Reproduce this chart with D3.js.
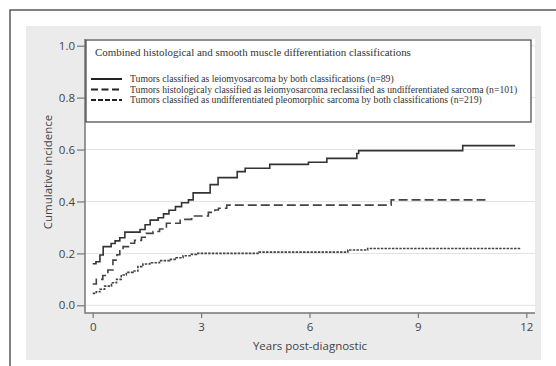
<!DOCTYPE html>
<html><head><meta charset="utf-8">
<script src="https://cdn.jsdelivr.net/npm/d3@7"></script>
<style>html,body{margin:0;padding:0;background:#fff;}svg{display:block;}</style>
</head><body>
<script>
// ---- data ----
const xTicks = [0, 3, 6, 9, 12];
const yTicks = [0, 0.2, 0.4, 0.6, 0.8, 1.0];
const legendTitle = "Combined histological and smooth muscle differentiation classifications";
const seriesNames = [
  "Tumors classified as leiomyosarcoma by both classifications (n=89)",
  "Tumors histologicaly classified as leiomyosarcoma reclassified as undifferentiated sarcoma (n=101)",
  "Tumors classified as undifferentiated pleomorphic sarcoma by both classifications (n=219)"
];
const lmsTime  = [0, 0.09, 0.2, 0.29, 0.51, 0.62, 0.75, 0.89, 1.31, 1.45, 1.59, 1.81, 1.96, 2.11, 2.29, 2.46, 2.65, 2.78, 3.25, 3.47, 4.0, 4.22, 4.9, 5.97, 6.48, 7.31, 7.36, 10.24, 11.69];
const lmsValue = [0.16, 0.168, 0.194, 0.226, 0.238, 0.248, 0.26, 0.282, 0.292, 0.31, 0.328, 0.337, 0.352, 0.366, 0.38, 0.395, 0.406, 0.433, 0.465, 0.492, 0.515, 0.528, 0.543, 0.551, 0.566, 0.585, 0.596, 0.615, 0.615];
const reclTime  = [0, 0.1, 0.28, 0.42, 0.56, 0.67, 0.75, 0.84, 1.02, 1.16, 1.35, 1.48, 1.67, 1.85, 2.04, 2.42, 2.74, 3.2, 3.38, 3.48, 3.71, 8.26, 10.87];
const reclValue = [0.082, 0.1, 0.115, 0.136, 0.174, 0.195, 0.213, 0.226, 0.239, 0.25, 0.262, 0.277, 0.284, 0.294, 0.316, 0.331, 0.344, 0.358, 0.367, 0.374, 0.386, 0.406, 0.406];
const upsTime  = [0, 0.1, 0.2, 0.33, 0.52, 0.66, 0.79, 0.93, 1.12, 1.25, 1.39, 1.58, 1.85, 2.13, 2.31, 2.5, 2.73, 2.87, 4.6, 7.06, 7.61, 11.85];
const upsValue = [0.046, 0.052, 0.062, 0.074, 0.087, 0.1, 0.117, 0.127, 0.132, 0.149, 0.159, 0.164, 0.172, 0.177, 0.183, 0.191, 0.196, 0.2, 0.205, 0.213, 0.219, 0.219];

(function () {
const W = 556, H = 366;
const svg = d3.select("body").append("svg").attr("width", W).attr("height", H);

// outer frame
svg.append("path").attr("d", "M10,366V10H556").attr("fill", "none").attr("stroke", "#5a5a5a").attr("stroke-width", 1.5);
// gray panel
svg.append("rect").attr("x", 26).attr("y", 26).attr("width", 515).attr("height", 334).attr("fill", "#ebebeb");

const pL = 85, pR = 535, pT = 39, pB = 313;
svg.append("rect").attr("x", pL).attr("y", pT).attr("width", pR - pL).attr("height", pB - pT).attr("fill", "#fff");

const x = d3.scaleLinear().domain([0, 12]).range([92.7, 526.3]);
const y = d3.scaleLinear().domain([0, 1]).range([305.3, 45.7]);

const axisFont = "'Open Sans', sans-serif";
const textCol = "#444";

// gridlines
svg.append("g").selectAll("line").data(yTicks).join("line")
  .attr("x1", pL).attr("x2", pR).attr("y1", d => y(d)).attr("y2", d => y(d))
  .attr("stroke", "#e2e2e2").attr("stroke-width", 1);

// axes
const axisCol = "#777";
const gy = svg.append("g").attr("transform", `translate(${pL},0)`)
  .call(d3.axisLeft(y).tickValues(yTicks).tickFormat(d3.format(".1f")).tickSize(8).tickPadding(2));
const gx = svg.append("g").attr("transform", `translate(0,${pB})`)
  .call(d3.axisBottom(x).tickValues(xTicks).tickSize(5).tickPadding(5));
[gy, gx].forEach(g => {
  g.select(".domain").remove();
  g.selectAll(".tick line").attr("stroke", axisCol).attr("stroke-width", 1.2);
  g.selectAll(".tick text").attr("fill", textCol).style("font-family", axisFont).style("font-size", "11.5px");
});
svg.append("path").attr("d", `M${pL},${pT}V${pB}H${pR}`).attr("fill", "none").attr("stroke", axisCol).attr("stroke-width", 1.5);

// axis titles
svg.append("text").attr("x", 310).attr("y", 350).attr("text-anchor", "middle")
  .attr("fill", textCol).style("font-family", axisFont).style("font-size", "11.5px").text("Years post-diagnostic");
svg.append("text").attr("transform", "translate(52,172) rotate(-90)").attr("text-anchor", "middle")
  .attr("fill", textCol).style("font-family", axisFont).style("font-size", "11.5px").text("Cumulative incidence");

// legend
svg.append("rect").attr("x", 86).attr("y", 40).attr("width", 445).attr("height", 82)
  .attr("fill", "#fff").attr("stroke", "#444").attr("stroke-width", 1.2);
const serif = "'Liberation Serif', 'Times New Roman', serif";
function fitText(sel, target) {
  const w = sel.node().getComputedTextLength();
  const fs = parseFloat(sel.style("font-size"));
  if (w > 0) sel.style("font-size", (fs * target / w).toFixed(2) + "px");
}
const tTitle = svg.append("text").attr("x", 95).attr("y", 56).attr("fill", "#333")
  .style("font-family", serif).style("font-size", "11px").text(legendTitle);
fitText(tTitle, 316);

const styles = [
  {dash: null, lw: 1.6, col: "#333", legDash: null},
  {dash: "9,4", lw: 1.6, col: "#444", legDash: "7,3.5"},
  {dash: "2.5,1.2", lw: 1.6, col: "#444", legDash: "5,2"}
];
const legRows = [79, 89.5, 100];
const legWidths = [264, 388, 352];
seriesNames.forEach((name, i) => {
  svg.append("line").attr("x1", 91).attr("x2", 122).attr("y1", legRows[i]).attr("y2", legRows[i])
    .attr("stroke", "#222").attr("stroke-width", 2).attr("stroke-dasharray", styles[i].legDash);
  const t = svg.append("text").attr("x", 130).attr("y", legRows[i] + 3).attr("fill", "#333")
    .style("font-family", serif).style("font-size", "9.5px").text(name);
  fitText(t, legWidths[i]);
});

// curves
const series = [
  d3.zip(lmsTime, lmsValue),
  d3.zip(reclTime, reclValue),
  d3.zip(upsTime, upsValue)
];
const line = d3.line().x(d => x(d[0])).y(d => y(d[1])).curve(d3.curveStepAfter);
series.forEach((s, i) => {
  svg.append("path").attr("d", line(s)).attr("fill", "none")
    .attr("stroke", styles[i].col).attr("stroke-width", styles[i].lw)
    .attr("stroke-dasharray", styles[i].dash);
});
})();
</script>
</body></html>
